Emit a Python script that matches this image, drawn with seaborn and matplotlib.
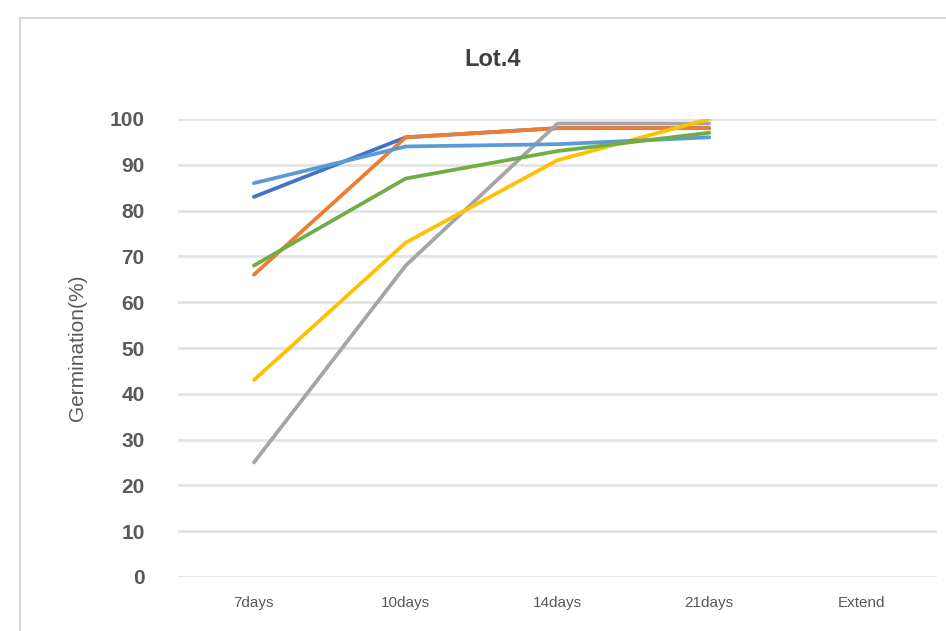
import matplotlib
matplotlib.use("Agg")
import matplotlib.pyplot as plt
import seaborn as sns
import pandas as pd
from matplotlib.patches import Rectangle

categories = ["7days", "10days", "14days", "21days", "Extend"]
series_names = ["S1", "S2", "S3", "S4", "S5", "S6"]
s1_dark_blue = [83, 96, 98, 98]
s2_orange = [66, 96, 98, 98]
s3_gray = [25, 68, 99, 99]
s4_yellow = [43, 73, 91, 100]
s5_light_blue = [86, 94, 94.5, 96]
s6_green = [68, 87, 93, 97]
colors = ["#4472C4", "#ED7D31", "#A5A5A5", "#FFC000", "#5B9BD5", "#70AD47"]
yticks = list(range(0, 101, 10))

sns.set_theme(style="white")
plt.rcParams['font.family'] = ['Liberation Sans Narrow', 'Liberation Sans', 'DejaVu Sans']

rows = []
for name, vals in zip(series_names, [s1_dark_blue, s2_orange, s3_gray, s4_yellow, s5_light_blue, s6_green]):
    for i, v in enumerate(vals):
        rows.append({"series": name, "x": i, "y": v})
df = pd.DataFrame(rows)

fig = plt.figure(figsize=(9.46, 6.31), dpi=100)
ax = fig.add_axes([178/946, 1-577/631, (937-178)/946, (577-119)/631])

sns.lineplot(data=df, x="x", y="y", hue="series", hue_order=series_names,
             palette=colors, linewidth=2.7, sort=False, legend=False, ax=ax)

ax.set_xlim(-0.5, len(categories) - 0.5)
ax.set_ylim(0, 100)
ax.set_xticks(range(len(categories)))
ax.set_xticklabels(categories, fontsize=11, color="#595959")
ax.set_yticks(yticks)
ax.set_yticklabels([str(t) for t in yticks], fontsize=15, color="#595959", fontweight="bold")
ax.tick_params(axis="x", pad=14, length=0)
ax.tick_params(axis="y", pad=24, length=0)
ax.yaxis.grid(True, color="#E3E3E3", linewidth=2.0)
ax.xaxis.grid(False)
ax.set_axisbelow(True)
for sp in ax.spines.values():
    sp.set_visible(False)
ax.set_xlabel("")
ax.set_ylabel("Germination(%)", fontsize=15, color="#595959", labelpad=16)

fig.text(493/946, 1-60/631, "Lot.4", ha="center", va="center", fontsize=17,
         fontweight="bold", color="#404040")

fig.patches.append(Rectangle((20/946, -0.1), 1.2, 1.1 - 18/631,
                             transform=fig.transFigure, fill=False,
                             edgecolor="#D9D9D9", linewidth=1.5))

fig.savefig("out.png", dpi=100)
